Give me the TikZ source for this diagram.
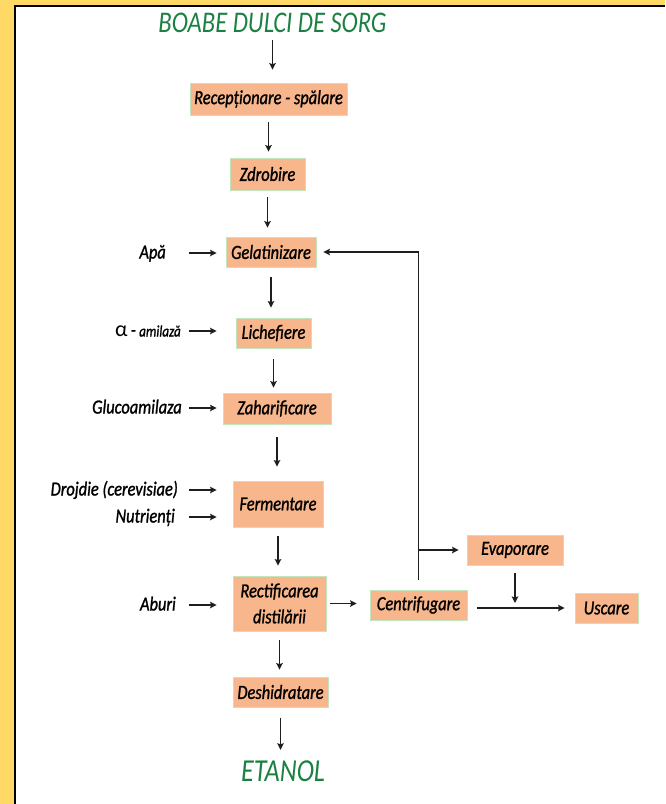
\documentclass[tikz,border=0pt]{standalone}
\usepackage{fontspec}
\setmainfont{Carlito}
\newfontfamily\hand[FakeStretch=0.82,FakeBold=1.2]{Carlito}
\newfontfamily\handlight[FakeStretch=0.82]{Carlito}
\usetikzlibrary{arrows.meta}

\definecolor{peach}{RGB}{248,182,140}
\definecolor{boxline}{RGB}{196,228,190}
\definecolor{leaf}{RGB}{28,128,66}
\definecolor{frameyellow}{RGB}{255,217,102}
\definecolor{ink}{RGB}{30,30,30}

\begin{document}
\begin{tikzpicture}[x=1pt,y=-1pt,
  stage/.style={fill=peach,draw=boxline,line width=0.8pt,inner sep=0pt,
    font=\hand\itshape\fontsize{20}{26}\selectfont,align=center},
  feed/.style={inner sep=0pt,anchor=east,text height=14pt,text depth=3pt,
    font=\hand\itshape\fontsize{20}{24}\selectfont},
  endpoint/.style={inner sep=0pt,text=leaf,font=\handlight\itshape\fontsize{30}{32}\selectfont},
  arr/.style={draw=ink,line width=1.8pt,-{Stealth[length=6.5pt,width=6.5pt,inset=1pt]}}]

\useasboundingbox (0,0) rectangle (665,804);

% page frame: yellow margin and black rule
\fill[frameyellow] (0,0) rectangle (15,804);
\fill[frameyellow] (0,0) rectangle (665,5);
\draw[black,line width=2pt] (15,804) -- (15,6) -- (665,6);

% raw material and product
\node[endpoint] (src) at (272.5,23) {BOABE DULCI DE SORG};
\node[endpoint,font=\handlight\itshape\fontsize{32}{34}\selectfont] (prod) at (283,771.5) {ETANOL};

% process stages
\node[stage,minimum width=157pt,minimum height=32pt] (rec)  at (268.5,99)  {Recepționare - spălare};
\node[stage,minimum width=75pt,minimum height=32pt]  (zdr)  at (267.5,174) {Zdrobire};
\node[stage,minimum width=90pt,minimum height=30pt]  (gel)  at (271,252)   {Gelatinizare};
\node[stage,minimum width=75pt,minimum height=30pt]  (lic)  at (273.5,333) {Lichefiere};
\node[stage,minimum width=108pt,minimum height=31pt] (zah)  at (277,408.5) {Zaharificare};
\node[stage,minimum width=90pt,minimum height=46pt]  (fer)  at (278,504)   {Fermentare};
\node[stage,minimum width=93pt,minimum height=55pt]  (rect) at (279.5,603.5) {Rectificarea\\distilării};
\node[stage,minimum width=95pt,minimum height=30pt]  (des)  at (280.5,692) {Deshidratare};
\node[stage,minimum width=97pt,minimum height=30pt]  (cen)  at (418.5,605) {Centrifugare};
\node[stage,minimum width=96pt,minimum height=30pt]  (eva)  at (515,550)   {Evaporare};
\node[stage,minimum width=63pt,minimum height=30pt]  (usc)  at (606.5,608) {Uscare};

% inputs
\node[feed] (apa)   at (166,253) {Apă};
\node[feed] (amil)  at (181,331) {{\normalfont\upshape\fontsize{22}{24}\selectfont α}\,-\,{\fontsize{16}{18}\selectfont amilază}};
\node[feed] (gluco) at (182,408) {Glucoamilaza};
\node[feed] (droj)  at (178,490) {Drojdie (cerevisiae)};
\node[feed] (nutr)  at (175,517) {Nutrienți};
\node[feed] (abur)  at (176,605) {Aburi};

% main line
\draw[arr,shorten <=7pt,shorten >=13pt] (src.south) -- (src.south |- rec.north);
\draw[arr,shorten <=7pt,shorten >=6pt]  (rec.south) -- (rec.south |- zdr.north);
\draw[arr,shorten <=7pt,shorten >=9pt]  (zdr.south) -- (zdr.south |- gel.north);
\draw[arr,shorten <=10pt,shorten >=10pt] (gel.south) -- (gel.south |- lic.north);
\draw[arr,shorten <=11pt,shorten >=5pt] (lic.south) -- (lic.south |- zah.north);
\draw[arr,shorten <=13pt,shorten >=14pt] (zah.south) -- (zah.south |- fer.north);
\draw[arr,shorten <=9pt,shorten >=10pt] (fer.south) -- (fer.south |- rect.north);
\draw[arr,shorten <=9pt,shorten >=7pt]  (rect.south) -- (rect.south |- des.north);
\draw[arr,shorten <=11pt,shorten >=11pt] (des.south) -- (des.south |- prod.north);

% input arrows
\draw[arr,shorten <=23pt,shorten >=9pt]  (apa.east)   -- (apa.east -| gel.west);
\draw[arr,shorten <=8pt,shorten >=19pt]  (amil.east)  -- (amil.east -| lic.west);
\draw[arr,shorten <=7pt,shorten >=6pt]   (gluco.east) -- (gluco.east -| zah.west);
\draw[arr,shorten <=11pt,shorten >=16pt] (droj.east)  -- (droj.east -| fer.west);
\draw[arr,shorten <=14pt,shorten >=16pt] (nutr.east)  -- (nutr.east -| fer.west);
\draw[arr,shorten <=13pt,shorten >=16pt] (abur.east)  -- (abur.east -| rect.west);

% by-products
\draw[arr,shorten <=4pt,shorten >=13pt] (rect.east) -- (rect.east -| cen.west);
\draw[arr,shorten >=7pt] ([yshift=10pt]cen.north) |- (gel.east);
\coordinate (fork) at (cen.north |- eva.west);
\draw[arr,shorten >=8pt] (fork) -- (eva.west);
\coordinate (merge) at (eva.south |- usc.west);
\draw[arr,shorten <=8pt,shorten >=5pt] (eva.south) -- (merge);
\draw[arr,shorten <=10pt,shorten >=10pt] (cen.east |- usc.west) -- (usc.west);
\end{tikzpicture}
\end{document}
